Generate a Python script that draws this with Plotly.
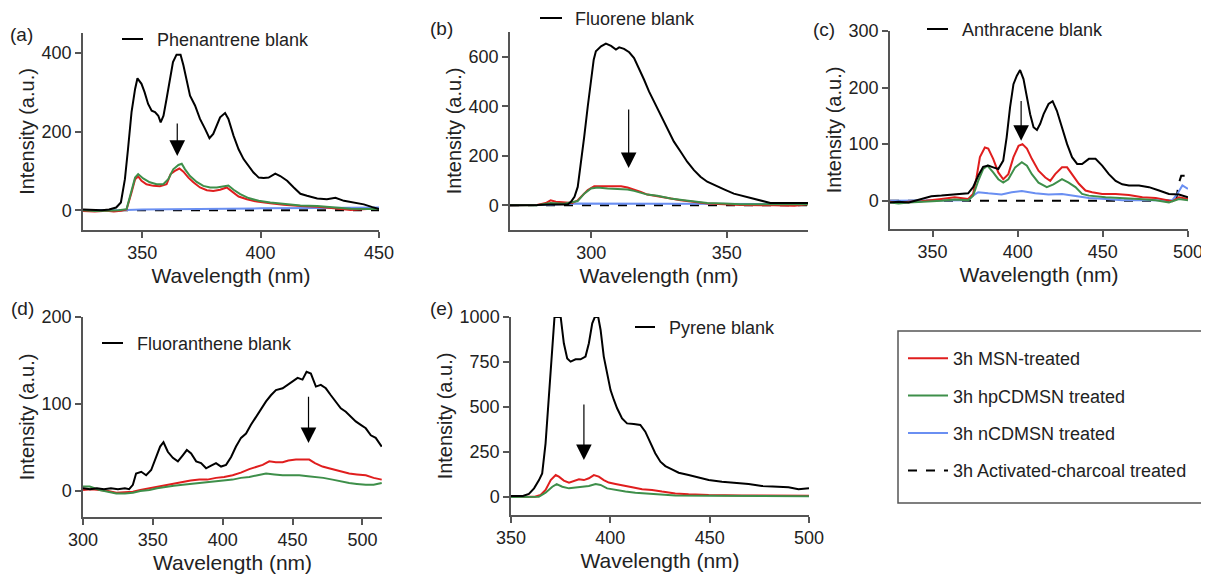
import plotly.graph_objects as go

W, H = 1209, 575
OX, OY = 8, 8  # page body margin of the html page

# ---------------- data ----------------
# (a) Phenanthrene
a_blk_x = [325, 330, 333, 336, 339, 341, 342.7, 344, 345.5, 347, 348, 349.7, 351, 352.5, 354, 355.4, 356.8, 357.8, 359, 360.3, 361.7, 363, 364.5, 366.2, 367.4, 368.8, 370.2, 372.3, 374.4, 376.6, 378.4, 380, 381.5, 382.9, 385, 386.4, 388.6, 390.7, 392.8, 394.9, 397, 399.2, 401.3, 403.4, 406.2, 408.3, 411.2, 414, 416.8, 419.6, 423.9, 428, 431.6, 435.2, 439.4, 443.6, 447.2, 450]
a_blk_y = [2, 1, 0, 2, 7, 20, 79, 155, 249, 308, 335, 321, 300, 270, 253, 249, 240, 223, 240, 283, 334, 376, 395, 395, 368, 325, 291, 266, 232, 206, 183, 194, 215, 236, 247, 232, 189, 155, 130, 113, 96, 83, 82, 83, 93, 87, 75, 58, 42, 37, 30, 28, 32, 24, 20, 15, 8, 3]
a_red_x = [325, 330, 335, 338, 341, 343.4, 345.5, 347, 348.3, 349.7, 351.8, 354.7, 357.5, 360.3, 362, 363.8, 365.7, 367.4, 369.5, 371.6, 374.4, 377.3, 380, 382.9, 385.7, 387.9, 390.7, 394.2, 398.4, 404.1, 409.7, 416.8, 423.9, 431, 438, 445, 450]
a_red_y = [-2, -3, -1, -3, -1, 2, 45, 79, 86, 75, 66, 62, 61, 66, 92, 100, 106, 98, 83, 71, 58, 51, 49, 52, 58, 47, 35, 28, 22, 18, 14, 11, 9, 5, 1, 3, 3]
a_grn_x = [325, 330, 335, 340, 343.4, 345.5, 347, 348.3, 350.4, 353.2, 356.1, 358.9, 361, 363.1, 365.3, 366.7, 368.1, 370.2, 373, 375.8, 378.7, 381.5, 384.3, 386.4, 388.6, 391.4, 394.9, 399.2, 404.1, 409.7, 416.8, 423.9, 431, 438, 445, 450]
a_grn_y = [0, -2, -1, 0, 3, 54, 83, 92, 81, 71, 66, 66, 79, 104, 115, 118, 104, 87, 72, 62, 58, 58, 60, 63, 52, 41, 31, 24, 20, 16, 12, 11, 7, 4, 3, 3]
a_blu_x = [325, 340, 350, 375, 400, 425, 450]
a_blu_y = [0, 0, 2, 4, 5, 6, 7]
a_dsh_x = [325, 450]
a_dsh_y = [0, 0]

# (b) Fluorene
b_blk_x = [270, 275, 280, 285, 291.3, 292.5, 293.8, 295, 296.2, 297.4, 298.7, 299.9, 300.9, 301.7, 303.6, 305.4, 307.3, 309.1, 310.3, 312.1, 314, 315.8, 317.6, 319.5, 321.3, 323.2, 325, 326.8, 328.7, 330.5, 333, 335.4, 337.9, 340.3, 342.8, 345.9, 349, 352.6, 356.3, 360, 363.6, 366.1, 371, 375.9, 380]
b_blk_y = [0, 2, 1, 3, 3, 14, 34, 74, 169, 277, 399, 507, 588, 622, 642, 653, 644, 629, 638, 632, 618, 595, 554, 507, 460, 419, 379, 338, 298, 257, 216, 176, 142, 115, 95, 81, 64, 47, 37, 27, 18, 9, 9, 9, 9]
b_red_x = [270, 275, 280, 283.2, 285, 286.9, 289.3, 293, 295, 296.8, 298.7, 301.1, 303.6, 306, 308.5, 311, 313.4, 315.8, 318.3, 320.7, 323.2, 325.6, 329.3, 333, 337.9, 342.8, 349, 355, 367.3, 375, 380]
b_red_y = [0, -1, 1, 9, 20, 14, 11, 9, 20, 41, 61, 77, 77, 74, 77, 77, 72, 64, 54, 43, 39, 34, 27, 20, 15, 7, 4, 1, 0, -2, 4]
b_grn_x = [270, 275, 280, 285, 290, 295, 297.4, 299.9, 302.3, 306, 309.7, 313.4, 315.8, 318.3, 320.7, 324.4, 329.3, 334.2, 339.1, 342.8, 349, 355, 380]
b_grn_y = [0, 1, 0, 9, 6, 17, 47, 68, 72, 68, 66, 64, 58, 50, 43, 38, 27, 20, 14, 9, 7, 4, 4]
b_blu_x = [270, 285, 292, 300, 320, 340, 345, 360, 380]
b_blu_y = [0, 2, 7, 7, 7, 6, 5, 4, 5]
b_dsh_x = [270, 380]
b_dsh_y = [0, 0]

# (c) Anthracene
c_blk_x = [325, 330, 336, 343.4, 349.3, 355.2, 363, 370.9, 373.8, 376.8, 379.7, 382.7, 385.6, 388.6, 391.5, 393.5, 395.5, 397.5, 399.5, 401.4, 403.4, 405.4, 407.3, 409.3, 411.3, 413.2, 415.2, 418.1, 420.5, 423, 426, 429, 431.9, 434.9, 437.8, 441.8, 445.7, 449.6, 453.5, 457.5, 461.4, 465.3, 471.2, 477.1, 483, 488.8, 494.7, 500]
c_blk_y = [-3, -2, -3, 3, 8, 9, 11, 13, 24, 44, 60, 62, 59, 56, 71, 112, 165, 206, 221, 231, 215, 183, 153, 130, 125, 136, 153, 171, 176, 159, 130, 100, 77, 65, 65, 74, 74, 62, 47, 35, 29, 27, 27, 24, 18, 12, 11, 6]
c_red_x = [325, 330, 336, 343.4, 355.2, 363, 370.9, 373.8, 375.8, 377.8, 380.7, 382.7, 385.6, 388.6, 391.5, 394.5, 397.5, 400.5, 402.8, 405.4, 408.3, 412.2, 416.2, 419.1, 422, 426, 429, 431.9, 435.9, 439.8, 443.7, 449.6, 457.5, 465.3, 473.2, 481, 486.9, 490.8, 494.7, 500]
c_red_y = [-2, -4, -2, -1, 3, 6, 3, 12, 41, 77, 94, 92, 74, 50, 38, 47, 77, 97, 100, 92, 74, 53, 41, 35, 47, 59, 59, 47, 30, 18, 15, 12, 12, 10, 6, 5, 1, -1, 6, 3]
c_grn_x = [325, 330, 336, 343.4, 355.2, 363, 370.9, 373.8, 376.8, 379.7, 382.2, 385.6, 388.6, 391.5, 394.5, 398.5, 402.4, 405.4, 408.3, 412.2, 417.1, 421, 426, 429.9, 433.9, 437.8, 441.8, 451.6, 461.4, 471.2, 481, 488.8, 494.7, 500]
c_grn_y = [-3, -5, -3, -2, 0, 2, 1, 9, 35, 56, 62, 50, 38, 32, 38, 59, 68, 62, 47, 32, 24, 29, 38, 32, 24, 12, 9, 6, 5, 3, 1, -3, 3, 1]
c_blu_x = [325, 370.9, 373.8, 376.8, 382.7, 390.5, 396.5, 402.4, 410.3, 418.1, 426, 433.9, 441.8, 451.6, 461.4, 481, 490.8, 493.7, 496.7, 500]
c_blu_y = [0, 1, 9, 15, 13, 11, 15, 17, 13, 11, 12, 9, 5, 3, 1, 1, 1, 12, 27, 21]
c_dsh_x = [325, 493, 494.5, 496, 500]
c_dsh_y = [0, 0, 30, 44, 44]

# (d) Fluoranthene
d_blk_x = [300, 305, 310, 315, 320, 325, 330, 333, 335.7, 338, 341.7, 345.2, 348.8, 352.4, 355.2, 357.6, 360.7, 364.3, 367.9, 371.4, 374.3, 377.4, 381, 384.5, 388.1, 391.7, 395.2, 398.8, 402.4, 406, 409.5, 413.1, 416.7, 420.2, 423.8, 427.4, 431, 434.5, 438.1, 442.9, 446.4, 450, 453.6, 457.1, 460, 463.1, 466.7, 470.2, 473.8, 477.4, 481, 484.5, 488.1, 491.7, 495.2, 498.8, 502.4, 506, 509.5, 513.8]
d_blk_y = [3, 2, 3, 2, 3, 2, 3, 2, 7, 20, 22, 18, 24, 39, 51, 56, 45, 38, 34, 41, 47, 43, 34, 32, 26, 29, 32, 28, 30, 39, 51, 61, 66, 76, 85, 93, 103, 110, 116, 118, 122, 126, 130, 128, 137, 135, 120, 122, 118, 110, 103, 95, 91, 85, 80, 76, 72, 64, 61, 51]
d_red_x = [300, 306, 311.9, 318, 323.8, 331, 335.7, 341, 347.6, 353, 359.5, 365, 371.4, 377, 383.3, 389, 395.2, 401, 407.1, 413, 419, 424, 428.6, 433.3, 438, 442.9, 447, 452.4, 457, 461.9, 466, 471.4, 476, 481, 486, 490.5, 496, 502.4, 508, 513.8]
d_red_y = [1, 2, 1, 0, -2, -1, -1, 1, 3, 5, 7, 9, 11, 12, 13, 13, 15, 16, 18, 21, 25, 28, 30, 34, 33, 33, 35, 36, 36, 36, 32, 28, 26, 24, 22, 20, 19, 18, 15, 13]
d_grn_x = [300, 304.8, 311.9, 318, 323.8, 330, 335.7, 341, 347.6, 353, 359.5, 365, 371.4, 377, 383.3, 389, 395.2, 401, 407.1, 413, 419, 425, 431, 437, 442.9, 449, 454.8, 461, 466.7, 472, 478.6, 484, 490.5, 496, 502.4, 508, 513.8]
d_grn_y = [5, 5, 1, -1, -3, -3, -2, 0, 1, 3, 5, 6, 7, 8, 9, 10, 11, 12, 13, 15, 16, 18, 20, 19, 18, 18, 18, 17, 16, 15, 13, 11, 9, 8, 7, 7, 9]

# (e) Pyrene
e_blk_x = [350, 353, 356, 359, 361.6, 364.1, 365.7, 367.4, 369.1, 370.8, 371.9, 375, 376.6, 378.3, 380, 382.5, 385, 387.5, 389.2, 390.9, 392.2, 393.9, 395.1, 396.7, 398.4, 400.1, 401.8, 403.4, 405.9, 408.4, 411.8, 415.1, 417.6, 420.1, 422.6, 425.2, 427.7, 431, 434.4, 439.4, 444.5, 449.5, 456.2, 462.9, 469.6, 476.3, 483, 489.7, 494.7, 500]
e_blk_y = [6, 6, 6, 17, 48, 94, 131, 298, 576, 854, 1000, 1000, 854, 770, 752, 765, 765, 780, 854, 965, 1000, 1000, 928, 780, 687, 594, 539, 493, 437, 409, 405, 400, 363, 307, 243, 196, 172, 154, 135, 122, 109, 94, 85, 80, 72, 61, 57, 54, 43, 48]
e_red_x = [350, 356, 362, 364.9, 367.4, 370, 372.5, 374.1, 376.6, 379.2, 381.7, 384.2, 386.7, 389.2, 391.7, 394.2, 396.7, 399.2, 402.6, 406.8, 411, 416, 421, 426, 432.7, 439.4, 449.5, 466.2, 483, 500]
e_red_y = [2, 2, 2, 11, 39, 94, 122, 113, 91, 80, 91, 98, 94, 104, 122, 113, 94, 80, 72, 61, 54, 43, 39, 30, 20, 15, 11, 9, 7, 7]
e_grn_x = [350, 357, 364, 367.4, 370.8, 373, 375.8, 379.2, 382.5, 385.9, 389.2, 392.6, 395.1, 398.4, 402.6, 407.6, 412.6, 419.3, 426, 432.7, 449.5, 466.2, 483, 500]
e_grn_y = [0, 0, 1, 24, 57, 72, 57, 48, 52, 54, 61, 72, 67, 48, 39, 30, 24, 20, 15, 9, 7, 6, 4, 4]

panel_labels = ["(a)", "(b)", "(c)", "(d)", "(e)"]
blank_names = ["Phenantrene blank", "Fluorene blank", "Anthracene blank",
               "Fluoranthene blank", "Pyrene blank"]
series_names = ["3h MSN-treated", "3h hpCDMSN treated", "3h nCDMSN treated",
                "3h Activated-charcoal treated"]
x_ticks = [[350, 400, 450], [300, 350], [350, 400, 450, 500],
           [300, 350, 400, 450, 500], [350, 400, 450, 500]]
y_ticks = [[0, 200, 400], [0, 200, 400, 600], [0, 100, 200, 300],
           [0, 100, 200], [0, 250, 500, 750, 1000]]
x_ranges = [[325, 450], [270, 380], [325, 500], [300, 514], [350, 500]]
y_ranges = [[-50, 450], [-100, 700], [-50, 300], [-30, 200], [-100, 1000]]
# arrows: (wavelength, tail value, tip value)
arrows = [(364.8, 224, 138), (313.8, 393, 150), (402, 179, 106),
          (461.4, 110, 55), (386.7, 522, 205)]

# ---------------- styling / layout ----------------
RED = "#e01e1e"
GREEN = "#3e8f4a"
BLUE = "#6a8ff2"
BLACK = "#000000"
AXC = "#555555"
FONT = "Liberation Sans, Arial, sans-serif"

def px(p):
    return (p - OX) / W

def py(p):
    return 1 - (p - OY) / H

# pixel boxes of each panel: (x0, x1, ytop, ybottom)
boxes = [(83, 379, 33, 230), (510, 808, 32, 230), (890, 1188, 31, 229),
         (83, 382, 317, 517), (511, 809, 317, 515)]

panels = [
    [(a_blk_x, a_blk_y), (a_red_x, a_red_y), (a_grn_x, a_grn_y), (a_blu_x, a_blu_y), (a_dsh_x, a_dsh_y)],
    [(b_blk_x, b_blk_y), (b_red_x, b_red_y), (b_grn_x, b_grn_y), (b_blu_x, b_blu_y), (b_dsh_x, b_dsh_y)],
    [(c_blk_x, c_blk_y), (c_red_x, c_red_y), (c_grn_x, c_grn_y), (c_blu_x, c_blu_y), (c_dsh_x, c_dsh_y)],
    [(d_blk_x, d_blk_y), (d_red_x, d_red_y), (d_grn_x, d_grn_y)],
    [(e_blk_x, e_blk_y), (e_red_x, e_red_y), (e_grn_x, e_grn_y)],
]
styles = [
    dict(color=BLACK, width=2),
    dict(color=RED, width=2),
    dict(color=GREEN, width=2),
    dict(color=BLUE, width=2),
    dict(color=BLACK, width=2, dash="dash"),
]

fig = go.Figure()
order = [4, 3, 1, 2, 0]
for i, series in enumerate(panels):
    xa = "x" if i == 0 else f"x{i+1}"
    ya = "y" if i == 0 else f"y{i+1}"
    for k in order:
        if k >= len(series):
            continue
        sx, sy = series[k]
        if k == 0:
            name = blank_names[i]
            show = False
        else:
            name = series_names[k - 1]
            show = (i == 0)
        fig.add_trace(go.Scatter(
            x=sx, y=sy, mode="lines", line=styles[k], name=name,
            showlegend=show, legendgroup=name, legendrank=k,
            xaxis=xa, yaxis=ya, hoverinfo="skip"))

layout = dict(
    width=W, height=H, margin=dict(l=0, r=0, t=0, b=0, autoexpand=False),
    paper_bgcolor="white", plot_bgcolor="white",
    font=dict(family=FONT, size=18, color="#222"),
    showlegend=True,
    legend=dict(x=px(903), y=py(340), xanchor="left", yanchor="top",
                bgcolor="rgba(0,0,0,0)", borderwidth=0,
                font=dict(size=18, color="#222"), tracegroupgap=11,
                traceorder="grouped", itemwidth=40),
)
shapes = []
annotations = []
for i in range(5):
    x0, x1, yt, yb = boxes[i]
    sx = "" if i == 0 else str(i + 1)
    layout["xaxis" + sx] = dict(
        domain=[px(x0), px(x1)], range=x_ranges[i], anchor="y" + sx,
        tickvals=x_ticks[i], showline=True, linecolor=AXC, linewidth=1.5,
        ticks="outside", ticklen=6, tickwidth=1.5, tickcolor=AXC,
        showgrid=False, zeroline=False, tickfont=dict(size=18, color="#222"),
        automargin=False,
        title=dict(text="Wavelength (nm)", font=dict(size=21, color="#222"), standoff=6))
    layout["yaxis" + sx] = dict(
        domain=[py(yb), py(yt)], range=y_ranges[i], anchor="x" + sx,
        tickvals=y_ticks[i], showline=True, linecolor=AXC, linewidth=1.5,
        ticks="outside", ticklen=6, tickwidth=1.5, tickcolor=AXC,
        showgrid=False, zeroline=False, tickfont=dict(size=18, color="#222"),
        automargin=False,
        title=dict(text="Intensity (a.u.)", font=dict(size=20, color="#222"), standoff=2))
    wl, tail, tip = arrows[i]
    annotations.append(dict(
        x=wl, y=tip, ax=wl, ay=tail, xref="x" + sx, yref="y" + sx,
        axref="x" + sx, ayref="y" + sx, text="", showarrow=True,
        arrowhead=2, arrowsize=2.6, arrowwidth=1.2, arrowcolor=BLACK))

label_pos = [(21, 34), (441, 29), (824, 30), (22, 308), (441, 308)]
for lab, (lx, ly) in zip(panel_labels, label_pos):
    annotations.append(dict(x=px(lx), y=py(ly), xref="paper", yref="paper",
                            text=lab, showarrow=False, font=dict(size=19, color="#222"),
                            xanchor="center", yanchor="middle"))

blank_leg = [(122, 143, 39, 155), (540, 562, 18, 573), (927, 948, 29, 960),
             (102, 123, 343, 135), (635, 655, 327, 667)]
for name, (l0, l1, ly, tx) in zip(blank_names, blank_leg):
    shapes.append(dict(type="line", xref="paper", yref="paper",
                       x0=px(l0), x1=px(l1), y0=py(ly), y1=py(ly),
                       line=dict(color=BLACK, width=2)))
    annotations.append(dict(x=px(tx), y=py(ly + 1), xref="paper", yref="paper",
                            text=name, showarrow=False, font=dict(size=18, color="#222"),
                            xanchor="left", yanchor="middle"))

shapes.append(dict(type="rect", xref="paper", yref="paper",
                   x0=px(898), x1=px(1207), y0=py(503), y1=py(331),
                   line=dict(color=AXC, width=1.5), fillcolor="rgba(0,0,0,0)"))

layout["shapes"] = shapes
layout["annotations"] = annotations
fig.update_layout(**layout)
fig.write_html("out.html")
